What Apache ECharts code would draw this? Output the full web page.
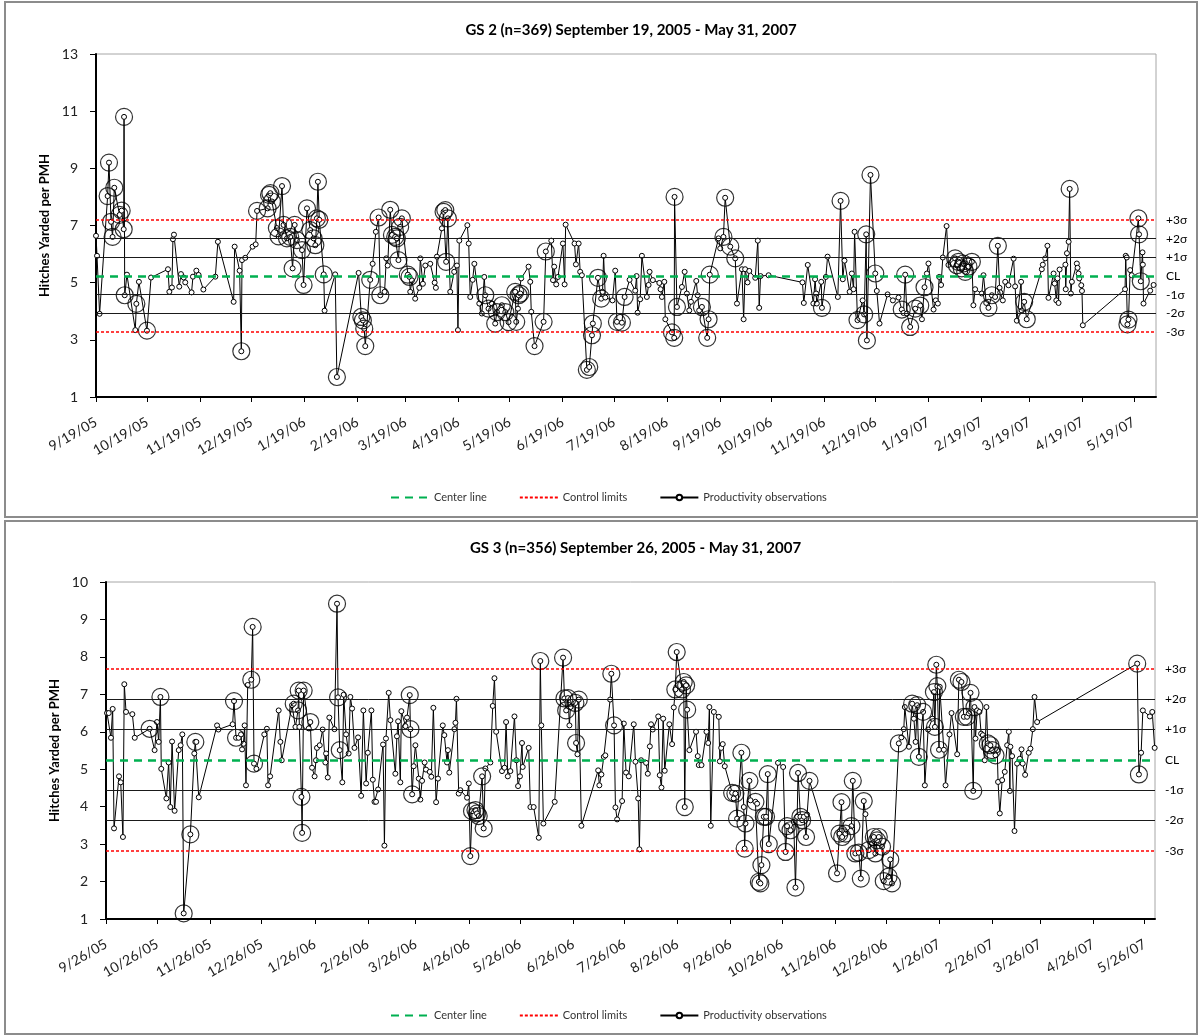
<!DOCTYPE html>
<html>
<head>
<meta charset="utf-8">
<title>Productivity control charts GS 2 and GS 3</title>
<script src="https://cdn.jsdelivr.net/npm/echarts@6.0.0/dist/echarts.min.js"></script>
<style>
  html, body { margin: 0; padding: 0; background: #fff; }
  #page { position: relative; width: 1202px; height: 1036px; overflow: hidden; }
  .chart { position: absolute; left: 0; width: 1202px; height: 518px; }
  .panel { position: absolute; border: 2px solid #8c8c8c; box-sizing: border-box; pointer-events: none; }
</style>
</head>
<body>
<div id="page">
  <div class="chart" id="gs2" style="top:0"></div>
  <div class="chart" id="gs3" style="top:518px"></div>
  <div class="panel" style="left:4px; top:1px; width:1194px; height:517px"></div>
  <div class="panel" style="left:4px; top:520px; width:1194px; height:515px"></div>
</div>
<script>
// ---- GS 2 ----------------------------------------------------------------
const gs2Title = 'GS 2 (n=369) September 19, 2005 - May 31, 2007';
const gs2Start = '9/19/05';
const gs2AxisEnd = '6/1/07';
const gs2Ticks = ['9/19/05','10/19/05','11/19/05','12/19/05','1/19/06','2/19/06','3/19/06','4/19/06',
  '5/19/06','6/19/06','7/19/06','8/19/06','9/19/06','10/19/06','11/19/06','12/19/06','1/19/07',
  '2/19/07','3/19/07','4/19/07','5/19/07'];
const gs2Center = 5.23;
const gs2Sigma = 0.655;
// [days since start, hitches yarded per PMH, flagged (1 = ringed)]
const gs2Obs = [
[0,6.64,0],[0.6,5.94,0],[2.1,3.91,0],[6.8,8.03,1],[7.6,9.2,1],[8.8,7.13,1],[9.7,6.6,1],[10.7,8.32,1],[13.8,7.37,1],[15.0,7.52,1],
[16.2,6.87,1],[16.4,10.8,1],[16.8,4.56,1],[18.1,5.28,0],[23.0,3.34,0],[23.6,4.26,1],[25.1,5.03,0],[29.8,3.32,1],[32.2,5.18,0],[42.1,5.47,0],
[42.9,4.68,0],[44.4,4.83,0],[45.0,6.52,0],[45.6,6.68,0],[48.7,4.86,0],[49.7,5.3,0],[51.3,5.18,0],[52.2,5.01,0],[55.9,4.66,0],[56.7,5.21,0],
[58.7,5.42,0],[60.0,5.27,0],[62.8,4.76,0],[69.8,5.21,0],[71.3,6.43,0],[80.5,4.33,0],[81.1,6.26,0],[84.0,5.42,0],[85.0,2.6,1],[85.4,5.79,0],
[87.3,5.87,0],[91.6,6.26,0],[93.4,6.34,0],[94.2,7.51,1],[100.4,7.6,1],[101.2,8.07,1],[102.0,8.13,1],[102.9,7.84,1],[105.8,6.91,1],[106.8,6.62,1],
[108.8,8.38,1],[109.7,7.02,1],[111.7,6.55,1],[113.6,6.6,1],[115.0,5.5,1],[116.2,7.02,1],[117.5,6.49,1],[120.5,6.14,1],[121.4,4.92,1],[123.4,7.6,1],
[125.3,6.84,1],[127.3,6.55,1],[128.3,6.31,1],[129.2,7.25,1],[129.8,8.53,1],[130.6,7.2,1],[133.2,5.29,1],[133.7,4.02,0],[139.9,5.29,0],[140.9,1.7,1],
[153.6,5.34,0],[155.2,3.8,1],[156.1,3.68,1],[156.9,3.39,1],[157.5,2.78,1],[160.4,5.1,1],[161.8,5.66,0],[163.7,6.78,0],[165.3,7.28,1],[166.3,4.56,1],
[168.8,4.68,0],[169.8,5.85,0],[170.6,5.6,0],[172.1,7.55,1],[173.1,6.67,1],[175.0,6.6,1],[176.0,6.55,1],[176.9,5.79,1],[177.9,6.95,1],[178.9,7.25,1],
[182.4,5.28,1],[183.4,5.2,1],[183.8,4.68,0],[184.8,5.08,0],[186.7,4.44,0],[189.1,4.82,0],[189.7,5.85,0],[191.2,4.96,0],[192.6,5.6,0],[195.5,5.66,0],
[198.1,5.0,0],[198.8,4.82,0],[199.4,5.91,0],[202.3,6.9,0],[203.3,7.48,1],[204.3,7.54,1],[204.8,5.73,1],[205.8,7.25,1],[207.2,4.68,0],[209.5,5.38,0],
[211.1,5.6,0],[211.7,3.34,0],[212.5,6.47,0],[217.2,7.01,0],[218.0,6.37,0],[218.9,4.5,0],[220.3,5.1,0],[221.3,5.66,0],[224.2,4.27,0],[225.7,3.92,0],
[227.1,5.2,0],[227.7,4.56,1],[229.6,4.09,1],[231.6,4.27,0],[233.5,3.57,1],[234.5,3.97,1],[237.4,4.21,1],[239.4,3.97,1],[241.3,3.62,1],[245.2,4.68,1],
[245.8,3.63,1],[246.8,4.09,0],[247.2,4.56,1],[248.2,4.62,1],[248.7,5.15,0],[253.0,5.56,0],[254.0,5.03,0],[254.6,3.98,0],[256.5,2.78,1],[261.8,3.63,1],
[263.1,6.09,1],[266.3,6.47,0],[267.3,5.09,0],[268.0,5.56,0],[269.2,4.94,0],[270.2,5.2,0],[273.1,6.37,0],[274.1,4.94,0],[274.7,7.03,0],[279.9,6.37,0],
[280.7,5.64,0],[282.3,6.37,0],[283.2,5.38,0],[284.2,5.26,0],[287.1,1.95,1],[288.5,2.05,1],[290.1,3.16,1],[290.6,3.57,1],[293.6,5.17,1],[295.5,4.44,1],
[296.3,4.68,0],[296.9,5.94,0],[297.9,4.48,0],[302.1,4.38,0],[303.7,5.42,0],[304.7,3.63,1],[307.6,3.6,1],[309.2,4.5,1],[312.1,5.1,0],[315.4,4.72,0],
[316.2,5.23,0],[316.8,3.95,0],[318.3,4.42,0],[319.3,5.94,0],[322.2,4.5,0],[323.2,4.92,0],[323.8,5.38,0],[325.7,5.09,0],[329.5,4.99,0],[330.2,4.77,0],
[331.0,4.5,0],[332.4,5.03,0],[333.0,3.72,0],[336.9,3.26,1],[338.2,3.07,1],[338.4,8.0,1],[339.8,4.15,1],[342.7,4.85,0],[344.3,5.38,0],[345.6,4.62,0],
[347.0,4.03,0],[348.0,4.33,0],[351.1,5.06,0],[351.9,4.56,0],[352.8,4.03,0],[354.4,4.15,1],[357.5,3.07,1],[358.3,3.72,1],[359.0,5.28,1],[364.1,6.55,0],
[365.1,6.2,0],[367.0,6.6,1],[368.0,7.97,1],[371.0,6.26,1],[373.9,5.85,1],[374.9,4.27,0],[377.8,5.47,0],[378.8,3.72,0],[379.7,5.47,0],[381.1,5.01,0],
[382.1,5.41,0],[385.6,5.17,0],[387.1,6.47,0],[387.9,4.12,0],[388.7,5.23,0],[393.4,5.26,0],[413.2,5.01,0],[414.0,4.29,0],[416.3,5.62,0],[419.6,4.27,0],
[420.6,5.12,0],[421.2,4.62,0],[421.6,4.27,0],[424.2,5.03,0],[424.6,4.12,1],[426.9,5.2,0],[427.9,5.91,0],[433.9,4.5,0],[435.5,7.86,1],[436.8,5.12,0],
[437.8,5.77,0],[440.8,4.68,0],[442.1,5.32,0],[443.1,4.77,0],[443.7,6.78,0],[445.4,3.69,1],[448.4,4.38,0],[449.3,3.89,1],[450.5,6.69,1],[450.9,2.98,1],
[453.0,8.77,1],[455.8,5.32,1],[456.7,4.71,0],[458.3,3.57,0],[463.0,4.59,0],[466.1,4.38,0],[469.4,4.48,0],[471.3,4.06,1],[472.3,3.94,0],[473.3,5.28,1],
[474.3,3.92,0],[476.2,3.45,1],[479.2,4.09,1],[482.1,4.2,1],[483.1,3.72,0],[484.6,4.84,1],[486.0,5.32,0],[486.9,5.67,0],[489.9,4.06,0],[491.2,4.38,0],
[492.4,4.27,0],[493.2,5.2,0],[494.3,4.92,0],[495.3,5.88,0],[497.5,6.98,0],[498.6,5.62,0],[502.5,5.85,1],[503.5,5.61,1],[504.5,5.73,1],[506.4,5.5,1],
[507.4,5.67,1],[508.4,5.38,1],[510.3,5.56,1],[512.3,5.73,1],[513.2,4.21,0],[514.2,4.77,0],[518.1,4.62,0],[519.1,5.26,0],[520.7,4.29,0],[522.0,4.12,1],
[524.0,4.56,1],[525.9,4.5,0],[527.5,6.29,1],[528.5,4.82,0],[528.9,4.66,0],[530.4,4.38,0],[531.8,5.03,0],[533.7,4.91,0],[536.7,5.84,0],[537.6,4.87,0],
[538.6,3.67,0],[541.1,5.03,0],[541.5,4.02,0],[542.9,4.33,1],[544.4,3.72,1],[553.2,5.47,0],[553.8,5.63,0],[555.2,5.85,0],[556.5,6.29,0],[557.1,4.47,0],
[560.1,5.32,0],[560.7,4.97,0],[561.7,4.38,0],[562.4,5.15,0],[563.0,4.29,0],[563.6,5.46,0],[567.0,5.63,0],[567.2,4.77,0],[567.9,6.03,0],[568.9,6.43,0],
[569.5,8.28,1],[570.2,4.62,0],[570.8,5.03,0],[573.7,5.67,0],[574.1,5.52,0],[574.7,5.32,0],[575.1,5.15,0],[576.3,4.91,0],[576.7,4.71,0],[577.2,3.51,0],
[601.9,4.77,0],[602.3,5.94,0],[602.9,5.88,0],[603.3,3.54,1],[603.9,3.71,1],[604.9,5.44,0],[605.8,5.26,0],[609.7,7.25,1],[610.1,6.69,1],[611.1,5.05,1],
[612.1,6.06,0],[612.3,5.63,0],[612.7,4.27,0],[616.6,4.72,0],[618.6,4.92,0]
];

// ---- GS 3 ----------------------------------------------------------------
const gs3Title = 'GS 3 (n=356) September 26, 2005 - May 31, 2007';
const gs3Start = '9/26/05';
const gs3AxisEnd = '6/1/07';
const gs3Ticks = ['9/26/05','10/26/05','11/26/05','12/26/05','1/26/06','2/26/06','3/26/06','4/26/06',
  '5/26/06','6/26/06','7/26/06','8/26/06','9/26/06','10/26/06','11/26/06','12/26/06','1/26/07',
  '2/26/07','3/26/07','4/26/07','5/26/07'];
const gs3Center = 5.25;
const gs3Sigma = 0.81;
const gs3Obs = [
[0.6,6.5,0],[1.6,6.5,0],[2.9,5.84,0],[3.9,6.61,0],[4.7,3.42,0],[7.6,4.81,0],[8.6,4.65,0],[9.9,3.19,0],[10.7,7.27,0],[11.7,6.53,0],
[15.4,6.47,0],[16.8,5.84,0],[25.5,6.08,1],[28.4,5.51,0],[29.8,6.26,0],[30.8,5.73,0],[31.8,6.93,1],[32.3,5.01,0],[35.3,4.22,0],[36.6,5.18,0],
[37.6,3.99,0],[38.6,5.74,0],[40.1,3.89,0],[42.5,5.51,0],[43.6,5.64,0],[44.6,5.93,0],[45.4,1.15,1],[49.3,3.26,1],[51.6,5.42,0],[52.2,5.73,1],
[52.8,5.73,0],[54.2,4.25,0],[64.9,6.17,0],[65.7,6.06,0],[74.0,6.2,0],[74.8,6.82,1],[76.0,5.84,1],[77.5,5.84,0],[78.9,5.93,0],[79.5,5.53,0],
[80.4,5.68,0],[81.0,6.17,0],[81.8,4.57,0],[82.8,7.25,0],[84.9,7.39,1],[85.7,8.8,1],[86.5,5.15,1],[87.9,5.01,0],[92.5,5.93,0],[94.0,6.08,0],
[94.7,4.57,0],[95.9,4.81,0],[100.9,6.57,0],[101.9,5.73,0],[102.7,5.24,0],[108.7,6.71,0],[109.7,6.75,1],[110.7,6.13,0],[112.2,6.57,1],[112.6,7.1,1],
[113.0,6.13,0],[114.2,4.26,1],[114.6,3.3,1],[115.5,7.1,1],[118.5,6.09,0],[119.4,6.26,1],[120.4,5.04,0],[121.9,4.81,0],[122.7,5.24,0],[123.3,5.57,0],
[124.9,5.64,0],[126.6,6.06,0],[128.2,5.18,0],[128.6,5.42,0],[129.6,4.78,0],[130.5,6.38,0],[133.5,6.07,0],[135.0,9.42,1],[135.6,6.92,1],[136.6,5.51,1],
[138.1,4.65,0],[138.9,6.99,0],[140.3,5.93,0],[141.8,5.42,0],[142.8,6.93,0],[143.8,6.62,0],[145.2,5.57,0],[147.3,5.85,0],[149.1,4.29,0],[150.4,6.57,0],
[152.0,4.62,0],[153.0,5.44,0],[155.1,6.57,0],[155.9,4.72,0],[156.9,4.13,0],[157.8,4.13,0],[159.0,4.46,0],[161.9,5.66,0],[162.7,2.96,0],[163.6,5.82,0],
[165.2,7.04,0],[166.2,6.31,0],[169.1,4.88,0],[170.0,5.88,0],[170.7,6.28,0],[172.0,4.65,0],[172.6,6.55,0],[175.0,6.15,0],[175.9,6.38,0],[177.5,6.98,1],
[177.9,6.07,1],[178.9,4.33,1],[179.8,5.08,0],[180.8,5.64,0],[182.8,4.75,0],[183.7,4.19,0],[184.7,4.69,0],[186.2,5.18,0],[187.0,4.99,0],[189.2,4.93,0],
[190.1,4.8,0],[191.3,6.64,0],[192.9,4.12,0],[194.0,4.75,0],[196.8,6.17,0],[197.7,5.91,0],[199.3,5.18,0],[199.8,5.51,0],[200.6,4.91,0],[203.6,6.07,0],
[204.2,6.24,0],[204.8,6.88,0],[206.1,4.35,0],[207.1,4.44,0],[211.0,4.24,0],[212.0,4.62,0],[212.9,2.68,1],[213.9,3.88,1],[215.9,3.91,1],[216.8,3.82,1],
[217.8,3.75,1],[219.8,4.81,1],[220.7,3.42,1],[221.7,5.02,0],[224.6,5.18,0],[226.0,6.69,0],[227.0,7.43,0],[228.0,6.0,0],[231.4,4.95,0],[232.9,5.04,0],
[233.8,6.26,0],[234.8,4.81,0],[236.3,4.95,0],[238.7,6.41,0],[239.8,5.24,0],[240.8,4.55,0],[241.9,4.81,0],[243.1,5.7,0],[243.5,5.06,0],[247.0,5.57,0],
[248.0,3.99,0],[249.9,3.99,0],[252.9,3.17,0],[253.8,7.89,1],[254.4,6.17,0],[255.6,3.55,0],[262.2,4.13,0],[267.1,7.98,1],[267.9,6.89,1],[268.9,6.57,1],
[270.0,6.9,1],[270.8,6.17,0],[271.4,6.66,0],[274.3,6.77,1],[274.7,5.7,1],[275.5,5.4,0],[276.3,6.86,1],[277.8,3.49,0],[287.6,4.97,0],[288.3,4.57,0],
[289.5,4.86,0],[290.9,5.33,0],[291.8,5.37,0],[294.6,6.86,0],[295.3,7.55,1],[296.9,6.17,1],[297.7,3.98,0],[298.7,3.66,0],[301.6,4.15,0],[302.6,6.22,0],
[303.9,4.91,0],[305.5,4.81,0],[308.4,6.2,0],[309.4,5.2,0],[311.0,4.22,0],[311.7,2.86,0],[312.7,5.24,0],[315.6,5.17,0],[316.6,4.88,0],[317.8,5.61,0],
[318.5,6.2,0],[319.5,6.06,0],[322.7,6.41,0],[323.6,4.84,0],[324.6,4.51,0],[325.6,6.35,0],[326.5,4.96,0],[329.2,6.2,0],[330.8,5.67,0],[331.8,6.65,0],
[332.7,7.13,1],[333.5,8.13,1],[336.6,7.13,1],[337.6,7.33,1],[338.2,3.99,1],[339.0,7.24,1],[339.6,6.59,1],[340.9,5.51,0],[344.8,6.0,0],[345.8,5.35,0],
[346.4,5.11,0],[348.0,5.11,0],[350.9,6.0,0],[351.9,5.7,0],[352.6,6.66,0],[353.4,3.49,0],[355.2,6.53,0],[358.1,6.4,0],[358.7,5.21,0],[359.5,5.57,0],
[360.4,5.67,0],[361.6,5.08,0],[365.9,4.37,1],[366.8,4.22,0],[367.8,4.35,1],[368.8,3.68,1],[371.3,5.44,1],[372.7,3.99,0],[373.2,2.88,1],[373.7,3.55,1],
[376.0,4.69,1],[376.6,4.17,0],[379.5,4.13,1],[380.5,4.08,0],[381.5,1.99,1],[382.4,1.95,1],[383.0,2.44,1],[384.4,3.73,1],[385.7,3.73,1],[386.7,4.87,1],
[387.3,3.0,1],[392.7,5.17,0],[395.7,5.06,0],[397.1,2.79,1],[398.0,3.48,1],[400.0,3.37,1],[401.9,3.59,0],[402.9,1.84,1],[403.9,3.73,0],[404.4,4.9,1],
[405.8,3.73,1],[406.8,3.64,1],[407.8,3.73,0],[409.1,3.19,1],[409.7,3.79,0],[411.1,4.69,1],[427.2,2.22,1],[428.6,3.28,1],[429.8,4.12,1],[430.2,3.19,1],
[432.1,3.28,1],[435.6,3.48,1],[436.4,4.69,1],[437.9,2.75,1],[439.9,2.77,1],[441.1,2.08,1],[442.8,4.15,1],[443.8,3.8,0],[445.7,2.84,1],[447.7,3.02,0],
[448.7,3.19,1],[449.6,2.75,1],[450.6,3.1,1],[451.6,3.19,1],[453.5,2.93,1],[454.5,2.01,1],[457.3,2.13,1],[458.3,2.59,1],[459.3,1.95,1],[463.3,5.69,1],
[464.8,5.85,0],[466.2,6.07,0],[466.8,6.66,0],[469.2,5.6,0],[471.1,6.75,1],[472.1,6.35,0],[473.1,5.73,0],[474.0,6.71,1],[475.0,5.33,1],[477.5,6.53,1],
[478.5,4.57,0],[480.4,6.06,0],[482.9,6.35,0],[483.8,7.06,1],[484.4,6.13,1],[485.2,7.79,1],[485.8,7.22,1],[486.8,5.52,1],[487.2,7.2,0],[489.6,5.52,0],
[490.6,4.57,0],[492.9,5.93,0],[494.1,6.5,0],[497.4,5.4,0],[498.4,7.39,1],[499.9,7.33,1],[501.3,6.4,1],[503.2,6.4,1],[504.2,6.49,0],[505.2,7.04,1],
[506.8,4.42,1],[507.5,6.66,1],[508.1,5.82,0],[509.1,6.57,0],[510.4,6.53,0],[511.4,5.95,0],[512.4,5.91,0],[513.5,5.24,0],[514.5,6.66,0],[515.3,5.69,1],
[516.8,5.64,1],[517.8,5.51,1],[519.8,5.37,1],[520.8,5.51,0],[521.3,4.66,0],[522.3,3.82,0],[523.7,4.71,0],[525.2,4.93,0],[526.6,5.64,0],[527.6,6.0,0],
[528.2,4.42,0],[528.5,5.6,0],[529.5,5.35,0],[530.9,3.35,0],[532.4,5.15,0],[534.0,5.28,0],[535.0,5.53,0],[535.7,5.15,0],[537.1,4.85,0],[539.2,5.44,0],
[540.2,5.55,0],[541.6,6.07,0],[542.6,6.93,0],[544.1,6.26,0],[602.6,7.82,1],[603.6,4.86,1],[604.9,5.44,0],[605.9,6.57,0],[610.0,6.41,0],[611.4,6.53,0],
[612.8,5.57,0]
];

const FONT = 'Lato, "Open Sans", "DejaVu Sans", sans-serif';
const DAY_MS = 86400000;

function parseDate(s) {
  const [m, d, y] = s.split('/').map(Number);
  return Date.UTC(2000 + y, m - 1, d);
}
function daysBetween(a, b) {
  return Math.round((parseDate(b) - parseDate(a)) / DAY_MS);
}

function controlChart(dom, cfg) {
  const chart = echarts.init(dom, null, { renderer: 'canvas' });
  const tickDays = cfg.ticks.map(t => daysBetween(cfg.start, t));
  const tickLabel = {};
  tickDays.forEach((d, i) => { tickLabel[d] = cfg.ticks[i]; });
  const maxDay = daysBetween(cfg.start, cfg.axisEnd);
  const c = cfg.center, s = cfg.sigma;

  const linePts = cfg.obs.map(p => [p[0], p[1]]);
  const flagged = cfg.obs.filter(p => p[2] === 1).map(p => [p[0], p[1]]);

  const sideLabel = { show: true, position: 'end', distance: 10, color: '#000', fontSize: 12, fontFamily: FONT };
  const redDash = { color: '#ff0000', width: 1.5, type: [3, 2] };
  const greenDash = { color: '#00b050', width: 2.5, type: [8, 6] };
  const lineOnly = { opacity: 0, color: 'rgba(0,0,0,0)', borderWidth: 0 };

  chart.setOption({
    animation: false,
    textStyle: { fontFamily: FONT },
    title: {
      text: cfg.title,
      left: cfg.grid.left + cfg.grid.width / 2,
      textAlign: 'center',
      top: 18,
      textStyle: { fontFamily: FONT, fontSize: 15, fontWeight: 'bold', color: '#000' }
    },
    legend: {
      left: 385, top: 487,
      itemWidth: 38, itemHeight: 7, itemGap: 32,
      textStyle: { fontFamily: FONT, fontSize: 11, color: '#333' },
      data: [
        { name: 'Center line', itemStyle: lineOnly },
        { name: 'Control limits', itemStyle: lineOnly },
        { name: 'Productivity observations' }
      ]
    },
    grid: {
      left: cfg.grid.left, top: cfg.grid.top, width: cfg.grid.width, height: cfg.grid.height,
      show: true, borderColor: '#a6a6a6', borderWidth: 1, backgroundColor: 'transparent'
    },
    xAxis: {
      type: 'value', min: 0, max: maxDay,
      axisLine: { show: true, onZero: false, lineStyle: { color: '#000', width: 2 } },
      axisTick: { show: true, customValues: tickDays, length: 5, lineStyle: { color: '#000', width: 1 } },
      axisLabel: {
        customValues: tickDays, rotate: 30, margin: 24, fontSize: 14, color: '#222', fontFamily: FONT,
        formatter: v => tickLabel[Math.round(v)] || ''
      },
      splitLine: { show: false }
    },
    yAxis: {
      type: 'value', min: cfg.yMin, max: cfg.yMax, interval: cfg.yStep,
      name: 'Hitches Yarded per PMH', nameLocation: 'middle', nameGap: 42,
      nameTextStyle: { fontFamily: FONT, fontSize: 13, fontWeight: 'bold', color: '#000' },
      axisLine: { show: true, lineStyle: { color: '#000', width: 2 } },
      axisTick: { show: true, length: 6, lineStyle: { color: '#000', width: 1 } },
      axisLabel: { margin: 18, fontSize: 14, color: '#222', fontFamily: FONT },
      splitLine: { show: false }
    },
    series: [
      {
        name: 'sigma bands', type: 'line', data: [], silent: true, z: 1,
        markLine: {
          silent: true, symbol: ['none', 'none'], animation: false,
          lineStyle: { color: '#1a1a1a', width: 1, type: 'solid' },
          label: sideLabel,
          data: [
            { yAxis: c + 2 * s, label: { formatter: '+2σ' } },
            { yAxis: c + 1 * s, label: { formatter: '+1σ' } },
            { yAxis: c - 1 * s, label: { formatter: '-1σ' } },
            { yAxis: c - 2 * s, label: { formatter: '-2σ' } }
          ]
        }
      },
      {
        name: 'Center line', type: 'line', data: [], silent: true, z: 2, symbol: 'none',
        lineStyle: greenDash, itemStyle: { color: '#00b050' },
        markLine: {
          silent: true, symbol: ['none', 'none'], animation: false,
          lineStyle: greenDash, label: sideLabel,
          data: [{ yAxis: c, label: { formatter: 'CL' } }]
        }
      },
      {
        name: 'Control limits', type: 'line', data: [], silent: true, z: 2, symbol: 'none',
        lineStyle: redDash, itemStyle: { color: '#ff0000' },
        markLine: {
          silent: true, symbol: ['none', 'none'], animation: false,
          lineStyle: redDash, label: sideLabel,
          data: [
            { yAxis: c + 3 * s, label: { formatter: '+3σ' } },
            { yAxis: c - 3 * s, label: { formatter: '-3σ' } }
          ]
        }
      },
      {
        name: 'Productivity observations', type: 'line', data: linePts, z: 3,
        symbol: 'circle', symbolSize: 5, showAllSymbol: true,
        lineStyle: { color: '#000', width: 1 },
        itemStyle: { color: '#fff', borderColor: '#000', borderWidth: 1 }
      },
      {
        name: 'flagged', type: 'scatter', data: flagged, z: 4, silent: true,
        symbol: 'circle', symbolSize: 17,
        itemStyle: { color: 'rgba(0,0,0,0)', borderColor: '#000', borderWidth: 1.2 }
      }
    ]
  });
  return chart;
}

controlChart(document.getElementById('gs2'), {
  title: gs2Title, start: gs2Start, axisEnd: gs2AxisEnd, ticks: gs2Ticks,
  center: gs2Center, sigma: gs2Sigma, obs: gs2Obs,
  yMin: 1, yMax: 13, yStep: 2,
  grid: { left: 96, top: 54, width: 1060, height: 343 }
});
controlChart(document.getElementById('gs3'), {
  title: gs3Title, start: gs3Start, axisEnd: gs3AxisEnd, ticks: gs3Ticks,
  center: gs3Center, sigma: gs3Sigma, obs: gs3Obs,
  yMin: 1, yMax: 10, yStep: 1,
  grid: { left: 106, top: 64, width: 1049, height: 337 }
});
</script>
</body>
</html>
